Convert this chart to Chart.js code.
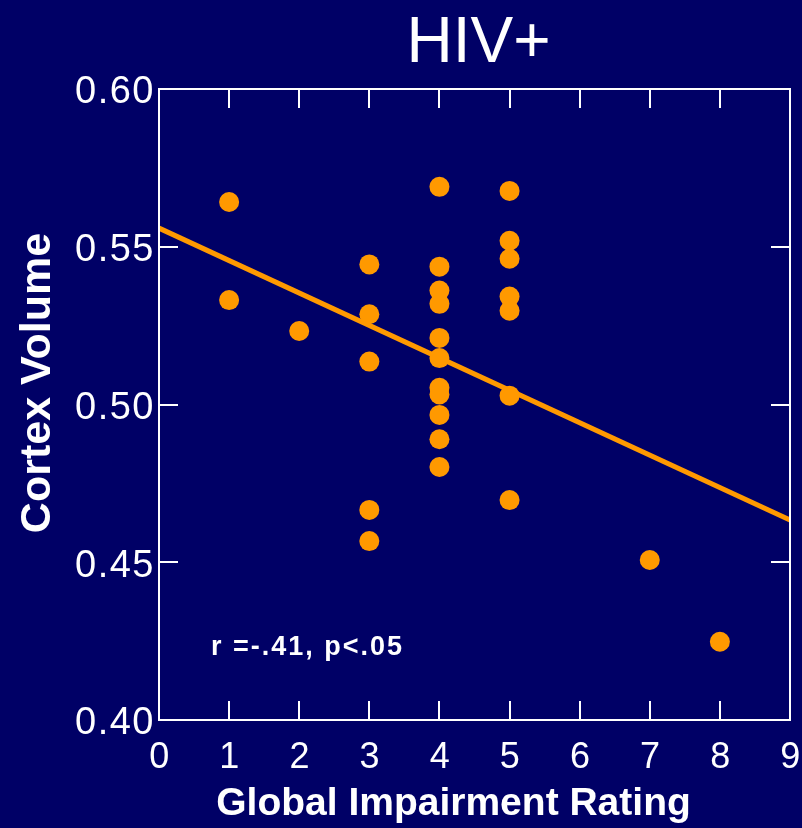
<!DOCTYPE html>
<html>
<head>
<meta charset="utf-8">
<title>HIV+ Cortex Volume</title>
<script src="https://cdn.jsdelivr.net/npm/chart.js@4.4.1/dist/chart.umd.min.js"></script>
<style>
  html, body { margin: 0; padding: 0; background: #000066; }
  canvas { display: block; }
</style>
</head>
<body>
<canvas id="chart" width="802" height="828"></canvas>
<script>
// Global impairment rating (x) and cortex volume (y) per subject
const ratings = [1, 1, 2, 3, 3, 3, 3, 3,
                 4, 4, 4, 4, 4, 4, 4, 4, 4, 4, 4,
                 5, 5, 5, 5, 5, 5, 5, 7, 8];
const volumes = [0.5642, 0.5331, 0.5233, 0.5444, 0.5286, 0.5136, 0.4666, 0.4567,
                 0.5690, 0.5437, 0.5361, 0.5319, 0.5211, 0.5147, 0.5053, 0.5032, 0.4967, 0.4890, 0.4802,
                 0.5677, 0.5519, 0.5462, 0.5342, 0.5297, 0.5028, 0.4697, 0.4507, 0.4248];

// Regression line end points
const fitX = [0, 9];
const fitY = [0.5559, 0.4634];

// Axis ticks
const xTicks = [0, 1, 2, 3, 4, 5, 6, 7, 8, 9];
const yTicks = [0.40, 0.45, 0.50, 0.55, 0.60];

const titleText = 'HIV+';
const xTitle = 'Global Impairment Rating';
const yTitle = 'Cortex Volume';
const statText = 'r =-.41, p<.05';

const ORANGE = '#FF9900';
const BG = '#000066';
const WHITE = '#FFFFFF';
const FONT = '"Liberation Sans", Arial, Helvetica, sans-serif';

const points = ratings.map((x, i) => ({ x: x, y: volumes[i] }));
const fitPoints = fitX.map((x, i) => ({ x: x, y: fitY[i] }));

// Background, boxed frame with inward ticks on all four sides, titles and statistic
const decorations = {
  id: 'decorations',
  beforeDraw(chart) {
    const ctx = chart.ctx;
    ctx.fillStyle = BG;
    ctx.fillRect(0, 0, chart.width, chart.height);
    // slightly open spacing for the tick labels
    ctx.letterSpacing = '1.5px';
  },
  afterDraw(chart) {
    const ctx = chart.ctx;
    const a = chart.chartArea;
    const xs = chart.scales.x, ys = chart.scales.y;
    const tl = 19;
    ctx.save();
    ctx.letterSpacing = '0px';
    ctx.strokeStyle = WHITE;
    ctx.lineWidth = 2;
    ctx.strokeRect(a.left, a.top, a.right - a.left, a.bottom - a.top);
    ctx.beginPath();
    xTicks.forEach(v => {
      const px = Math.round(xs.getPixelForValue(v));
      ctx.moveTo(px, a.bottom); ctx.lineTo(px, a.bottom - tl);
      ctx.moveTo(px, a.top); ctx.lineTo(px, a.top + tl);
    });
    yTicks.forEach(v => {
      const py = Math.round(ys.getPixelForValue(v));
      ctx.moveTo(a.left, py); ctx.lineTo(a.left + tl, py);
      ctx.moveTo(a.right, py); ctx.lineTo(a.right - tl, py);
    });
    ctx.stroke();

    ctx.fillStyle = WHITE;
    ctx.textBaseline = 'alphabetic';

    // chart title
    ctx.textAlign = 'center';
    ctx.font = '64px ' + FONT;
    ctx.fillText(titleText, (a.left + a.right) / 2 + 4, a.top - 27);

    // x axis title
    ctx.font = 'bold 39px ' + FONT;
    ctx.fillText(xTitle, a.left + 294.5, a.bottom + 95);

    // y axis title, rotated
    ctx.save();
    ctx.translate(50, a.top + 294);
    ctx.rotate(-Math.PI / 2);
    ctx.font = 'bold 43px ' + FONT;
    ctx.fillText(yTitle, 0, 0);
    ctx.restore();

    // correlation statistic
    ctx.textAlign = 'left';
    ctx.letterSpacing = '2px';
    ctx.font = 'bold 27px ' + FONT;
    ctx.fillText(statText, a.left + 52, a.bottom - 65);
    ctx.restore();
  }
};

new Chart(document.getElementById('chart'), {
  type: 'scatter',
  data: {
    datasets: [
      {
        type: 'line',
        data: fitPoints,
        borderColor: ORANGE,
        borderWidth: 5,
        pointRadius: 0,
        fill: false,
        order: 2
      },
      {
        data: points,
        backgroundColor: ORANGE,
        borderWidth: 0,
        pointRadius: 10,
        pointHoverRadius: 10,
        order: 1
      }
    ]
  },
  options: {
    responsive: false,
    animation: false,
    devicePixelRatio: 1,
    events: [],
    layout: { padding: { top: 89, right: 12, left: 0, bottom: 0 } },
    plugins: {
      legend: { display: false },
      tooltip: { enabled: false },
      title: { display: false }
    },
    scales: {
      x: {
        type: 'linear',
        position: 'bottom',
        min: 0,
        max: 9,
        grid: { display: false, drawTicks: false },
        border: { display: false },
        afterBuildTicks(scale) { scale.ticks = xTicks.map(v => ({ value: v })); },
        afterFit(scale) {
          scale.height = 108;
          scale.paddingLeft = 0; scale.paddingRight = 0;
        },
        ticks: {
          color: WHITE,
          font: { family: FONT, size: 36 },
          padding: 16,
          labelOffset: 1,
          maxRotation: 0,
          autoSkip: false,
          callback: v => String(v)
        },
        title: { display: false }
      },
      y: {
        type: 'linear',
        min: 0.40,
        max: 0.60,
        grid: { display: false, drawTicks: false },
        border: { display: false },
        afterBuildTicks(scale) { scale.ticks = yTicks.map(v => ({ value: v })); },
        afterFit(scale) {
          scale.width = 159;
          scale.paddingTop = 0; scale.paddingBottom = 0;
        },
        ticks: {
          color: WHITE,
          font: { family: FONT, size: 38 },
          padding: 4,
          labelOffset: 4,
          autoSkip: false,
          callback: v => Number(v).toFixed(2)
        },
        title: { display: false }
      }
    }
  },
  plugins: [decorations]
});
</script>
</body>
</html>
